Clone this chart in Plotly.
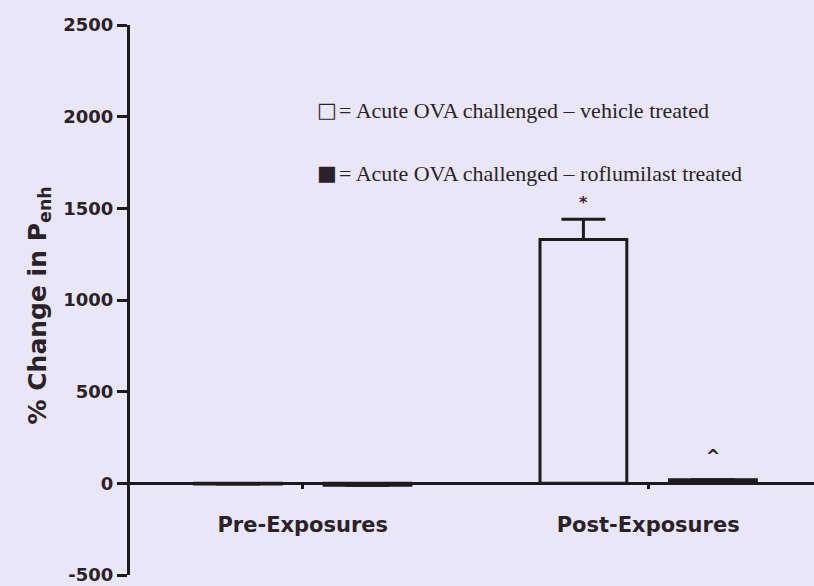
import plotly.graph_objects as go

categories = ["Pre-Exposures", "Post-Exposures"]
vehicle = [-3, 1330]
vehicle_err = [0, 110]
roflumilast = [-10, 20]
roflumilast_err = [0, 0]
y_ticks = [-500, 0, 500, 1000, 1500, 2000, 2500]
y_labels = ["-500", "0", "500", "1000", "1500", "2000", "2500"]
marks = ["", "*"]
rofl_marks = ["", "^"]

bg = "#E9E7F7"
ink = "#1E1A1C"
txt = "#2a2228"
bold_font = "DejaVu Sans"

fig = go.Figure()
fig.add_trace(go.Bar(
    x=categories, y=vehicle, name="vehicle",
    marker={"color": bg, "line": {"color": ink, "width": 3}},
    error_y={"type": "data", "array": vehicle_err, "arrayminus": [0, 0],
             "symmetric": False, "color": ink, "thickness": 3, "width": 22},
))
fig.add_trace(go.Bar(
    x=categories, y=roflumilast, name="roflumilast",
    marker={"color": ink, "line": {"color": ink, "width": 3}},
    error_y={"type": "data", "array": roflumilast_err, "symmetric": False,
             "color": ink, "thickness": 3, "width": 22},
))

fig.update_layout(
    width=814, height=586,
    paper_bgcolor=bg, plot_bgcolor=bg,
    margin={"l": 130, "r": 0, "t": 25, "b": 11},
    barmode="group", bargap=0.25, bargroupgap=0.33,
    showlegend=False,
    font={"family": "Arial", "color": ink},
)
fig.update_xaxes(
    type="category", range=[-0.5, 1.48],
    anchor="free", position=500 / 3000,
    showline=True, linecolor=ink, linewidth=3,
    ticks="outside", ticklen=4, tickwidth=3, tickcolor=ink,
    ticklabelstandoff=17,
    tickfont={"family": bold_font, "size": 21, "color": txt, "weight": "bold"},
    showgrid=False, zeroline=False,
)
fig.update_yaxes(
    range=[-500, 2500], tickvals=y_ticks, ticktext=y_labels,
    showline=True, linecolor=ink, linewidth=3,
    ticks="outside", ticklen=10, tickwidth=3, tickcolor=ink,
    tickfont={"family": bold_font, "size": 18, "color": txt, "weight": "bold"},
    showgrid=False, zeroline=False,
)

# significance marks above bars
for i, (m, r) in enumerate(zip(marks, rofl_marks)):
    if m:
        fig.add_annotation(x=i - 0.187, y=vehicle[i] + vehicle_err[i], yshift=17,
                           text="<b>" + m + "</b>", showarrow=False,
                           font={"family": bold_font, "size": 16, "color": "#4a2030"})
    if r:
        fig.add_annotation(x=i + 0.187, y=roflumilast[i], yshift=24,
                           text="<b>" + r + "</b>", showarrow=False,
                           font={"family": bold_font, "size": 17, "color": ink})

fig.add_annotation(
    xref="paper", yref="paper", x=0, y=0.49, xshift=-110,
    text="<b>% Change in P<sub>enh</sub></b>", textangle=-90, showarrow=False,
    font={"family": bold_font, "size": 25, "color": txt},
)
legend_marks = ["□", "■"]
legend_text = ["= Acute OVA challenged – vehicle treated",
               "= Acute OVA challenged – roflumilast treated"]
legend_y = [0.871, 0.757]
for k, (sym, line) in enumerate(zip(legend_marks, legend_text)):
    fig.add_annotation(
        xref="paper", yref="paper", x=0.270, y=legend_y[k],
        xanchor="left", showarrow=False, text=sym,
        font={"family": "DejaVu Sans", "size": 21, "color": txt},
    )
    fig.add_annotation(
        xref="paper", yref="paper", x=0.303, y=legend_y[k],
        xanchor="left", showarrow=False, text=line,
        font={"family": "Liberation Serif, Times New Roman", "size": 22, "color": txt},
    )

fig.write_html("out.html", post_script="document.body.style.margin='0px';",
               config={"displayModeBar": False})
